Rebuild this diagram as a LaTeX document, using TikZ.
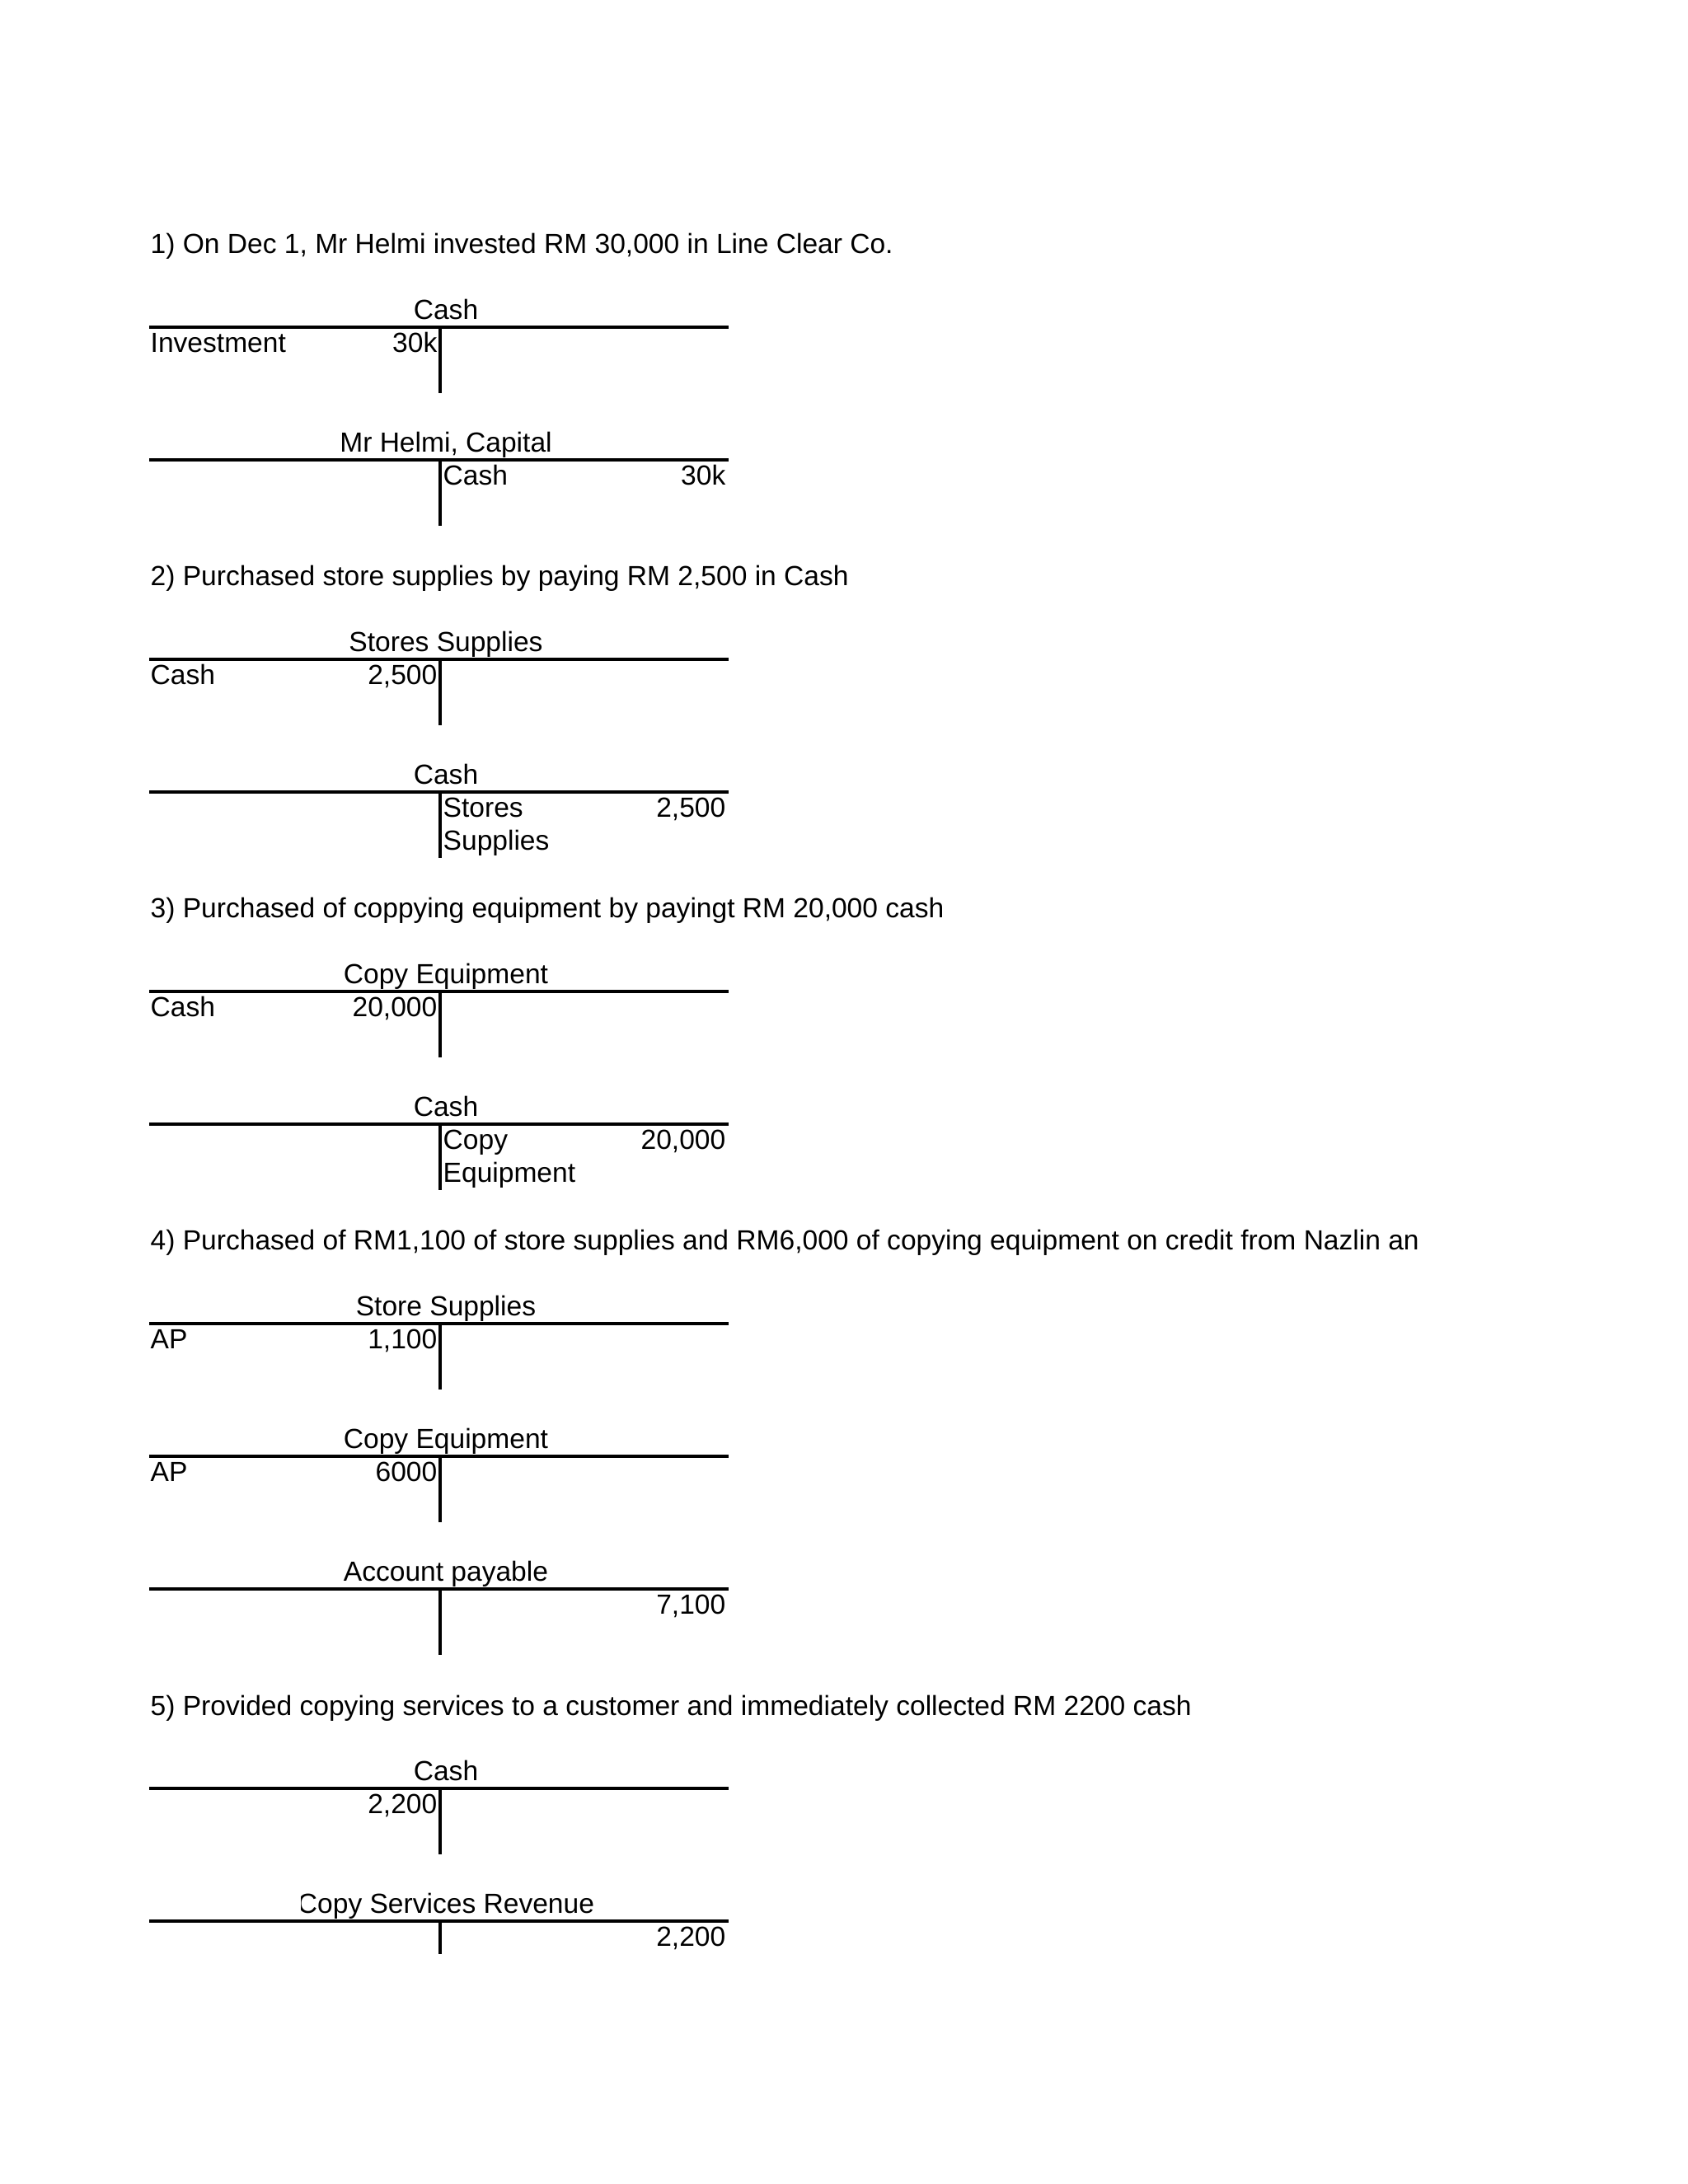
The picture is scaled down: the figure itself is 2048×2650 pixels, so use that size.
\documentclass[tikz,border=0pt]{standalone}
\usepackage{fontspec}
\setmainfont{Liberation Sans}
\usepackage{tikz}

\begin{document}
\begin{tikzpicture}[x=0.1mm,y=-0.1mm,
    every node/.style={font=\fontsize{9.55}{11}\selectfont,inner sep=0pt},
    rule/.style={line width=0.95pt},
    title/.style={anchor=base west},
    head/.style={anchor=base},
    dlabel/.style={anchor=base west},
    damount/.style={anchor=base east},
    clabel/.style={anchor=base west},
    camount/.style={anchor=base east}]
			\useasboundingbox[fill=white] (0,0) rectangle (2048,2650);
			
			% 1) investment
			\node[title] (t1) at (182,307) {1) On Dec 1, Mr Helmi invested RM 30,000 in Line Clear Co.};
			
			\draw[rule] (181,397) -- (884,397);
			\draw[rule] (534,397) -- (534,477);
			\node[head] (cash1) at (541,387) {Cash};
			\node[dlabel] (inv1) at (182,427) {Investment};
			\node[damount] (inv1amt) at (531,427) {30k};
			
			\draw[rule] (181,558) -- (884,558);
			\draw[rule] (534,558) -- (534,638);
			\node[head] (capital1) at (541,548) {Mr Helmi, Capital};
			\node[clabel] (cashcr1) at (537,588) {Cash};
			\node[camount] (cashcr1amt) at (881,588) {30k};
			
			% 2) store supplies for cash
			\node[title] (t2) at (182,710) {2) Purchased store supplies by paying RM 2,500 in Cash};
			
			\draw[rule] (181,800) -- (884,800);
			\draw[rule] (534,800) -- (534,880);
			\node[head] (supplies2) at (541,790) {Stores Supplies};
			\node[dlabel] (cash2) at (182,830) {Cash};
			\node[damount] (cash2amt) at (531,830) {2,500};
			
			\draw[rule] (181,961) -- (884,961);
			\draw[rule] (534,961) -- (534,1041);
			\node[head] (cashacc2) at (541,951) {Cash};
			\node[clabel] (sup2a) at (537,991) {Stores};
			\node[clabel] (sup2b) at (537,1031) {Supplies};
			\node[camount] (sup2amt) at (881,991) {2,500};
			
			% 3) copy equipment for cash
			\node[title] (t3) at (182,1113) {3) Purchased of coppying equipment by payingt RM 20,000 cash};
			
			\draw[rule] (181,1203) -- (884,1203);
			\draw[rule] (534,1203) -- (534,1283);
			\node[head] (equip3) at (541,1193) {Copy Equipment};
			\node[dlabel] (cash3) at (182,1233) {Cash};
			\node[damount] (cash3amt) at (531,1233) {20,000};
			
			\draw[rule] (181,1364) -- (884,1364);
			\draw[rule] (534,1364) -- (534,1444);
			\node[head] (cashacc3) at (541,1354) {Cash};
			\node[clabel] (eq3a) at (537,1394) {Copy};
			\node[clabel] (eq3b) at (537,1434) {Equipment};
			\node[camount] (eq3amt) at (881,1394) {20,000};
			
			% 4) purchases on credit
			\node[title] (t4) at (182,1516) {4) Purchased of RM1,100 of store supplies and RM6,000 of copying equipment on credit from Nazlin an};
			
			\draw[rule] (181,1606) -- (884,1606);
			\draw[rule] (534,1606) -- (534,1686);
			\node[head] (supplies4) at (541,1596) {Store Supplies};
			\node[dlabel] (ap4a) at (182,1636) {AP};
			\node[damount] (ap4aamt) at (531,1636) {1,100};
			
			\draw[rule] (181,1767) -- (884,1767);
			\draw[rule] (534,1767) -- (534,1847);
			\node[head] (equip4) at (541,1757) {Copy Equipment};
			\node[dlabel] (ap4b) at (182,1797) {AP};
			\node[damount] (ap4bamt) at (531,1797) {6000};
			
			\draw[rule] (181,1928) -- (884,1928);
			\draw[rule] (534,1928) -- (534,2008);
			\node[head] (payable4) at (541,1918) {Account payable};
			\node[camount] (payable4amt) at (881,1958) {7,100};
			
			% 5) services for cash
			\node[title] (t5) at (182,2081) {5) Provided copying services to a customer and immediately collected RM 2200 cash};
			
			\draw[rule] (181,2170) -- (884,2170);
			\draw[rule] (534,2170) -- (534,2250);
			\node[head] (cash5) at (541,2160) {Cash};
			\node[damount] (cash5amt) at (531,2200) {2,200};
			
			\draw[rule] (181,2331) -- (884,2331);
			\draw[rule] (534,2331) -- (534,2371);
			\begin{scope}
				\clip (365,2280) rectangle (720,2330);
				\node[head] (revenue5) at (541,2321) {Copy Services Revenue};
			\end{scope}
			\node[camount] (revenue5amt) at (881,2361) {2,200};
		\end{tikzpicture}
\end{document}
